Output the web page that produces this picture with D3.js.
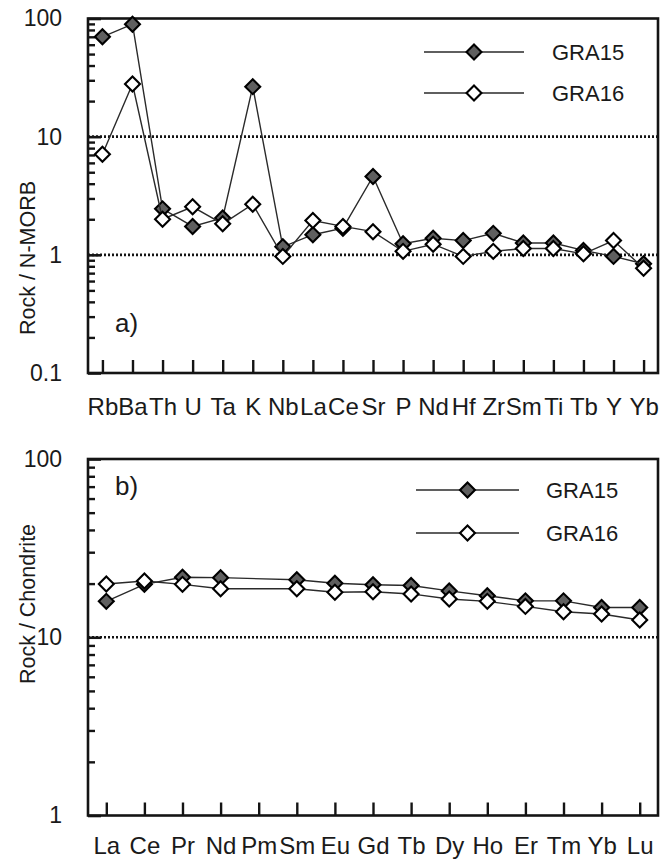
<!DOCTYPE html>
<html>
<head>
<meta charset="utf-8">
<script src="https://cdn.jsdelivr.net/npm/d3@7"></script>
<style>
  html, body { margin: 0; padding: 0; background: #ffffff; }
  svg { display: block; }
  text { font-family: "Liberation Sans", Arial, sans-serif; fill: #1a1a1a; }
</style>
</head>
<body>
<svg id="chart" width="669" height="862"></svg>
<script>
// ---- Data ----
const spiderElements = ["Rb","Ba","Th","U","Ta","K","Nb","La","Ce","Sr","P","Nd","Hf","Zr","Sm","Ti","Tb","Y","Yb"];
const spiderGRA15 = [70, 89.5, 2.45, 1.74, 2.05, 26.5, 1.17, 1.48, 1.68, 4.6, 1.24, 1.38, 1.32, 1.52, 1.26, 1.26, 1.09, 0.97, 0.84];
const spiderGRA16 = [7.1, 27.9, 2.0, 2.55, 1.83, 2.68, 0.97, 1.95, 1.74, 1.57, 1.07, 1.23, 0.97, 1.07, 1.13, 1.13, 1.02, 1.32, 0.77];
const spiderYTicks = [0.1, 1, 10, 100];
const spiderYLabels = ["0.1", "1", "10", "100"];

const reeElements = ["La","Ce","Pr","Nd","Pm","Sm","Eu","Gd","Tb","Dy","Ho","Er","Tm","Yb","Lu"];
const reeGRA15 = [15.9, 19.8, 21.7, 21.6, null, 21.0, 20.1, 19.7, 19.5, 18.2, 17.1, 16.0, 16.0, 14.7, 14.7];
const reeGRA16 = [19.9, 20.7, 19.8, 18.7, null, 18.7, 17.9, 18.0, 17.5, 16.4, 15.9, 14.9, 13.9, 13.5, 12.5];
const reeYTicks = [1, 10, 100];
const reeYLabels = ["1", "10", "100"];

const seriesNames = ["GRA15", "GRA16"];
const seriesFills = ["#5f5f5f", "#ffffff"];

// ---- Drawing ----
const svg = d3.select("#chart");
const ink = "#141414";

function panel(opts) {
  const g = svg.append("g");
  const x = d3.scalePoint().domain(opts.elements).range([opts.left, opts.right]).padding(0.48);
  const y = d3.scaleLog().domain(opts.yDomain).range([opts.bottom, opts.top]);

  // dotted reference lines
  opts.gridAt.forEach(v => {
    g.append("line")
      .attr("x1", opts.left).attr("x2", opts.right)
      .attr("y1", y(v)).attr("y2", y(v))
      .attr("stroke", ink).attr("stroke-width", 2.6)
      .attr("stroke-dasharray", "2,2");
  });

  // minor y ticks (inside)
  const minor = [];
  const [lo, hi] = opts.yDomain;
  for (let d = lo; d < hi; d *= 10) {
    for (let k = 2; k <= 9; k++) minor.push(d * k);
  }
  const yMinor = d3.axisLeft(y).tickValues(minor).tickSize(-7).tickFormat("");
  const gm = g.append("g").attr("transform", `translate(${opts.left},0)`).call(yMinor);
  gm.select(".domain").remove();
  gm.selectAll(".tick line").attr("stroke", ink).attr("stroke-width", 2.4);

  // major y ticks + labels
  const yMajor = d3.axisLeft(y).tickValues(opts.yTicks).tickSize(-13)
    .tickPadding(26).tickFormat((d, i) => opts.yLabels[i]);
  const gy = g.append("g").attr("transform", `translate(${opts.left},0)`).call(yMajor);
  gy.select(".domain").remove();
  gy.selectAll(".tick line").attr("stroke", ink).attr("stroke-width", 2.6);
  gy.selectAll(".tick text").attr("font-size", 23).attr("fill", "#1a1a1a")
    .style("font-family", '"Liberation Sans", Arial, sans-serif');

  // x ticks + labels
  const xAxis = d3.axisBottom(x).tickSize(-13).tickPadding(opts.xPad);
  const gx = g.append("g").attr("transform", `translate(0,${opts.bottom})`).call(xAxis);
  gx.select(".domain").remove();
  gx.selectAll(".tick line").attr("stroke", ink).attr("stroke-width", 2.4);
  gx.selectAll(".tick text").attr("font-size", 24).attr("fill", "#1a1a1a")
    .style("font-family", '"Liberation Sans", Arial, sans-serif');

  // frame
  g.append("rect")
    .attr("x", opts.left).attr("y", opts.top)
    .attr("width", opts.right - opts.left).attr("height", opts.bottom - opts.top)
    .attr("fill", "none").attr("stroke", ink).attr("stroke-width", 2.6);

  // series
  const line = d3.line().x(d => x(d.e)).y(d => y(d.v));
  const diamond = d3.symbol().type(d3.symbolSquare).size(112);
  opts.series.forEach((vals, si) => {
    const pts = opts.elements.map((e, i) => ({ e, v: vals[i] })).filter(d => d.v != null);
    g.append("path").datum(pts).attr("d", line)
      .attr("fill", "none").attr("stroke", "#2a2a2a").attr("stroke-width", 1.4);
    g.selectAll(null).data(pts).enter().append("path")
      .attr("d", diamond)
      .attr("transform", d => `translate(${x(d.e)},${y(d.v)}) rotate(45)`)
      .attr("fill", seriesFills[si]).attr("stroke", "#000").attr("stroke-width", 2.1);
  });

  // legend
  seriesNames.forEach((name, si) => {
    const ly = opts.legendY[si];
    g.append("line")
      .attr("x1", opts.legendX[0]).attr("x2", opts.legendX[1])
      .attr("y1", ly).attr("y2", ly)
      .attr("stroke", "#2a2a2a").attr("stroke-width", 1.4);
    g.append("path").attr("d", diamond)
      .attr("transform", `translate(${(opts.legendX[0] + opts.legendX[1]) / 2},${ly}) rotate(45)`)
      .attr("fill", seriesFills[si]).attr("stroke", "#000").attr("stroke-width", 2.1);
    g.append("text").attr("x", opts.legendTextX).attr("y", ly).attr("dy", "0.36em")
      .attr("font-size", 22).text(name);
  });

  // panel letter
  g.append("text").attr("x", 115).attr("y", opts.letterY)
    .attr("font-size", 26).text(opts.letter);

  // y title
  g.append("text")
    .attr("transform", `translate(${opts.titleX},${opts.titleY}) rotate(-90)`)
    .attr("text-anchor", "middle").attr("dy", "0.36em")
    .attr("font-size", 21.5).text(opts.yTitle);
}

panel({
  elements: spiderElements, series: [spiderGRA15, spiderGRA16],
  yDomain: [0.1, 100], yTicks: spiderYTicks, yLabels: spiderYLabels,
  left: 88, right: 658, top: 18.5, bottom: 373,
  gridAt: [1, 10], xPad: 25,
  legendX: [424, 524], legendY: [52, 93], legendTextX: 552,
  letter: "a)", letterY: 332,
  yTitle: "Rock / N-MORB", titleX: 27, titleY: 258
});

panel({
  elements: reeElements, series: [reeGRA15, reeGRA16],
  yDomain: [1, 100], yTicks: reeYTicks, yLabels: reeYLabels,
  left: 88, right: 658, top: 459, bottom: 815.5,
  gridAt: [10], xPad: 21,
  legendX: [416, 519], legendY: [490, 533], legendTextX: 546,
  letter: "b)", letterY: 495,
  yTitle: "Rock / Chondrite", titleX: 27, titleY: 604
});
</script>
</body>
</html>
